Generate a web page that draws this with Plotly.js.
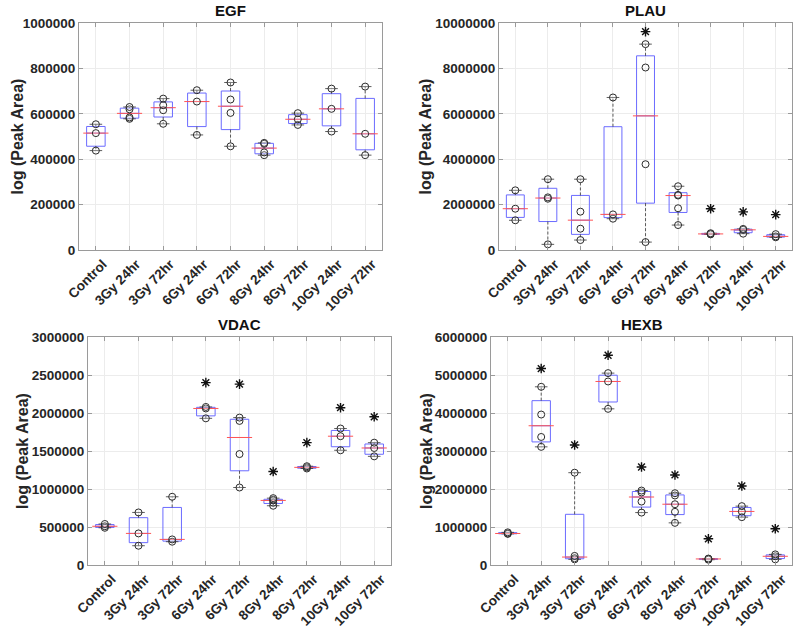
<!DOCTYPE html>
<html>
<head>
<meta charset="utf-8">
<script src="https://cdn.plot.ly/plotly-3.0.1.min.js"></script>
<style>html,body{margin:0;padding:0;background:#fff;}#chart{width:800px;height:629px;}</style>
</head>
<body>
<div id="chart"></div>
<script>
// ---- data ----
const categories = ['Control','3Gy 24hr','3Gy 72hr','6Gy 24hr','6Gy 72hr','8Gy 24hr','8Gy 72hr','10Gy 24hr','10Gy 72hr'];
const panelTitles = ['EGF','PLAU','VDAC','HEXB'];
const yTitle = 'log (Peak Area)';

const egfValues = [
  [438000, 515000, 554000],
  [578000, 584000, 620000, 630000],
  [556000, 616000, 638000, 667000],
  [507000, 654000, 704000],
  [457000, 604000, 663000, 738000],
  [418000, 430000, 468000, 472000],
  [551000, 576000, 603000],
  [522000, 622000, 711000],
  [418000, 512000, 720000]
];
const egfStars = [null, null, null, null, null, null, null, null, null];

const plauValues = [
  [1310000, 1820000, 2630000],
  [250000, 2260000, 2320000, 3120000],
  [440000, 940000, 1690000, 3120000],
  [1380000, 1570000, 6720000],
  [350000, 3780000, 8040000, 9070000],
  [1100000, 1840000, 2400000, 2430000, 2810000],
  [690000, 710000, 740000],
  [720000, 890000, 930000],
  [560000, 600000, 700000]
];
const plauStars = [null, null, null, null, 9620000, null, 1820000, 1680000, 1560000];

const vdacValues = [
  [490000, 510000, 540000],
  [254000, 416000, 692000],
  [307000, 337000, 898000],
  [1930000, 2060000, 2080000],
  [1020000, 1460000, 1896000, 1940000],
  [780000, 820000, 850000, 860000, 880000],
  [1270000, 1285000, 1300000],
  [1510000, 1695000, 1796000],
  [1430000, 1540000, 1610000]
];
const vdacStars = [null, null, null, 2400000, 2380000, 1230000, 1610000, 2070000, 1950000];

const hexbValues = [
  [820000, 830000, 860000],
  [3110000, 3370000, 3960000, 4690000],
  [150000, 180000, 240000, 2430000],
  [4110000, 4830000, 5050000],
  [1380000, 1670000, 1910000, 1960000],
  [1110000, 1400000, 1600000, 1830000, 1890000],
  [140000, 160000, 170000],
  [1260000, 1410000, 1550000],
  [150000, 230000, 280000]
];
const hexbStars = [null, 5170000, 3160000, 5520000, 2580000, 2370000, 690000, 2080000, 955000];

const yRanges = [[0, 1000000], [0, 10000000], [0, 3000000], [0, 6000000]];
const yDticks = [200000, 2000000, 500000, 1000000];

// ---- helpers ----
// MATLAB-style percentile (position n*p + 0.5)
function prc(sorted, p) {
  const n = sorted.length;
  const pos = n * p + 0.5;
  if (pos <= 1) return sorted[0];
  if (pos >= n) return sorted[n - 1];
  const lo = Math.floor(pos);
  const f = pos - lo;
  return sorted[lo - 1] + f * (sorted[lo] - sorted[lo - 1]);
}
function stats(vals) {
  const s = vals.slice().sort((a, b) => a - b);
  const q1 = prc(s, 0.25), med = prc(s, 0.5), q3 = prc(s, 0.75);
  const iqr = q3 - q1;
  const hiLim = q3 + 1.5 * iqr, loLim = q1 - 1.5 * iqr;
  const hi = Math.max.apply(null, s.filter(v => v <= hiLim).concat([q3]));
  const lo = Math.min.apply(null, s.filter(v => v >= loLim).concat([q1]));
  return {q1, med, q3, hi, lo};
}

const FONT = '"Liberation Sans", Arial, Helvetica, sans-serif';
const panelsData = [egfValues, plauValues, vdacValues, hexbValues];
const panelsStars = [egfStars, plauStars, vdacStars, hexbStars];
const domains = [
  {x: [0.0988, 0.4775], y: [0.6025, 0.9634]},
  {x: [0.6238, 0.9900], y: [0.6025, 0.9634]},
  {x: [0.1100, 0.4888], y: [0.1017, 0.4642]},
  {x: [0.6138, 0.9900], y: [0.1017, 0.4642]}
];
const yTitleX = [18, 426, 22, 426];
const medSize = [18, 18, 18, 18];

const traces = [];
const layout = {
  width: 800, height: 629,
  margin: {l: 0, r: 0, t: 0, b: 0},
  paper_bgcolor: '#ffffff', plot_bgcolor: '#ffffff',
  showlegend: false,
  font: {family: FONT, color: '#262626'},
  annotations: []
};

panelsData.forEach((vals, i) => {
  const sfx = i === 0 ? '' : String(i + 1);
  const xa = 'x' + sfx, ya = 'y' + sfx;
  const st = vals.map(stats);

  // boxes
  traces.push({
    type: 'box', xaxis: xa, yaxis: ya,
    x: categories,
    q1: st.map(s => s.q1), median: st.map(s => s.med), q3: st.map(s => s.q3),
    lowerfence: st.map(s => s.q1), upperfence: st.map(s => s.q3),
    boxpoints: false, width: 0.55, whiskerwidth: 0,
    fillcolor: 'rgba(0,0,0,0)',
    line: {color: '#6b6bff', width: 1},
    hoverinfo: 'skip'
  });

  // whiskers (dashed black)
  const wx = [], wy = [], cx = [], cy = [];
  st.forEach((s, k) => {
    if (s.hi > s.q3) { wx.push(categories[k], categories[k], null); wy.push(s.q3, s.hi, null); }
    if (s.lo < s.q1) { wx.push(categories[k], categories[k], null); wy.push(s.q1, s.lo, null); }
    cx.push(categories[k], categories[k]); cy.push(s.hi, s.lo);
  });
  traces.push({
    type: 'scatter', mode: 'lines', xaxis: xa, yaxis: ya,
    x: wx, y: wy, connectgaps: false,
    line: {color: '#333333', width: 0.8, dash: '3px,2px'}, hoverinfo: 'skip'
  });
  traces.push({
    type: 'scatter', mode: 'markers', xaxis: xa, yaxis: ya,
    x: cx, y: cy,
    marker: {symbol: 'line-ew', size: 9, color: '#333333', line: {color: '#333333', width: 0.8}}, hoverinfo: 'skip'
  });

  // medians (red)
  traces.push({
    type: 'scatter', mode: 'markers', xaxis: xa, yaxis: ya,
    x: categories, y: st.map(s => s.med),
    marker: {symbol: 'line-ew', size: medSize[i], color: '#ff5555', line: {color: '#ff5555', width: 1}}, hoverinfo: 'skip'
  });

  // individual points
  const px = [], py = [];
  vals.forEach((arr, k) => arr.forEach(v => { px.push(categories[k]); py.push(v); }));
  traces.push({
    type: 'scatter', mode: 'markers', xaxis: xa, yaxis: ya,
    x: px, y: py,
    marker: {symbol: 'circle', size: 7, color: 'rgba(255,255,255,0.2)', line: {color: '#2a2a2a', width: 1}}
  });

  // significance stars
  const sx = [], sy = [];
  panelsStars[i].forEach((v, k) => { if (v !== null) { sx.push(categories[k]); sy.push(v); } });
  traces.push({
    type: 'scatter', mode: 'markers', xaxis: xa, yaxis: ya,
    x: sx, y: sy,
    marker: {symbol: 'asterisk-open', size: 8, color: '#111111', line: {color: '#111111', width: 1.4}}
  });

  const axCommon = {
    showline: true, linecolor: '#9a9a9a', linewidth: 1, mirror: 'ticks',
    ticks: 'inside', ticklen: 4, tickcolor: '#9a9a9a',
    showgrid: true, gridcolor: '#ececec', gridwidth: 1, zeroline: false
  };
  layout['xaxis' + sfx] = Object.assign({}, axCommon, {
    domain: domains[i].x, anchor: ya,
    type: 'category', categoryorder: 'array', categoryarray: categories,
    range: [-0.5, 8.5], tickangle: -45, ticklabelshift: 7,
    tickfont: {family: FONT, size: 13.5, color: '#262626', weight: 'bold'}
  });
  layout['yaxis' + sfx] = Object.assign({}, axCommon, {
    domain: domains[i].y, anchor: xa,
    range: yRanges[i], dtick: yDticks[i], tick0: 0, tickformat: 'd',
    tickfont: {family: FONT, size: 13.5, color: '#262626', weight: 'bold'}
  });

  layout.annotations.push({
    text: '<b>' + panelTitles[i] + '</b>', xref: 'paper', yref: 'paper',
    x: (domains[i].x[0] + domains[i].x[1]) / 2, y: domains[i].y[1] + 0.003,
    xanchor: 'center', yanchor: 'bottom', showarrow: false,
    font: {family: FONT, size: 15, color: '#111111'}
  });
  layout.annotations.push({
    text: '<b>' + yTitle + '</b>', xref: 'paper', yref: 'paper',
    x: yTitleX[i] / 800, y: (domains[i].y[0] + domains[i].y[1]) / 2,
    xanchor: 'center', yanchor: 'middle', textangle: -90, showarrow: false,
    font: {family: FONT, size: 16, color: '#262626'}
  });
});

Plotly.newPlot('chart', traces, layout, {displayModeBar: false, staticPlot: true});
</script>
</body>
</html>
